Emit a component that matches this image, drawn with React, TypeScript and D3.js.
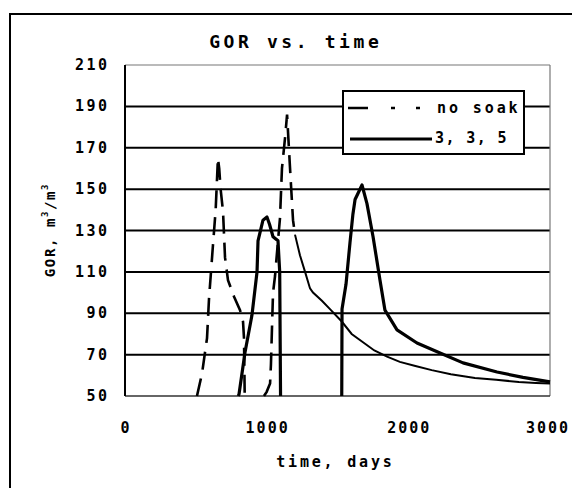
import React from "react";
import * as d3 from "d3";

// ---- data ----
const noSoakDays = [508, 544, 579, 593, 621, 640, 656, 665, 675, 692, 706, 727, 770, 812, 833, 840, 845, null,
  981, 1000, 1024, 1030, 1038, 1045, 1059, 1080, 1094, 1108, 1130, 1144, 1165, 1186, 1200, 1235, 1271, 1306, 1327,
  1390, 1447, 1530, 1600, 1680, 1760, 1850, 1940, 2050, 2165, 2300, 2470, 2620, 2780, 2900, 3000];
const noSoakGor = [50, 61, 78, 97, 123, 140, 165, 160, 150, 139, 117, 106, 98, 91.5, 86, 78, 50, null,
  50, 52, 56, 65, 84, 100, 108, 125, 136, 160, 175, 186, 160, 135, 128, 118, 110, 102, 100,
  96, 92, 86, 80, 76, 72, 69, 66.5, 64.5, 62.5, 60.5, 58.7, 57.8, 56.8, 56.3, 56];

const soakDays = [800, 805, 847, 896, 932, 939, 974, 1002, 1020, 1045, 1080, 1092, 1098, null,
  1530, 1532, 1560, 1588, 1609, 1624, 1673, 1708, 1751, 1800, 1835, 1920, 2061, 2224, 2386, 2626, 2809, 3000];
const soakGor = [50, 51, 71, 89, 110, 125, 135, 136.5, 133, 127, 125, 110, 50, null,
  50, 92, 104, 124, 138, 145, 152, 143, 127, 106, 91.5, 82, 75.6, 70.8, 66, 61.6, 59, 56.8];

const yTicks = [50, 70, 90, 110, 130, 150, 170, 190, 210];
const xTicks = [0, 1000, 2000, 3000];
const seriesNames = ["no soak", "3, 3, 5"];

const FONT = "'DejaVu Sans Mono', 'Liberation Mono', monospace";

export default function App() {
  const W = 572, H = 488;
  const x = d3.scaleLinear().domain([0, 3000]).range([125, 550]);
  const y = d3.scaleLinear().domain([50, 210]).range([396, 65]);

  type P = { t: number | null; g: number | null };
  const noSoak: P[] = noSoakDays.map((t, i) => ({ t, g: noSoakGor[i] }));
  const soak: P[] = soakDays.map((t, i) => ({ t, g: soakGor[i] }));

  const line = d3.line<P>()
    .defined(d => d.t != null && d.g != null)
    .x(d => x(d.t as number))
    .y(d => y(d.g as number));

  const noSoakHead = noSoak.filter(d => d.t == null || (d.t as number) <= 1200);
  const noSoakTail = noSoak.filter(d => d.t != null && (d.t as number) >= 1200);

  const ls = 2.4;
  const xls = 2.0;
  return (
    <svg width={W} height={H} style={{ position: "absolute", left: 0, top: 0, background: "#fff" }}>
      <rect x={0} y={0} width={W} height={H} fill="#fff" />
      <rect x={10} y={14} width={620} height={520} fill="none" stroke="#000" strokeWidth={2} />

      {/* grid lines */}
      {yTicks.filter(v => v > 50 && v < 210).map(v => (
        <line key={v} x1={x(0)} x2={x(3000)} y1={y(v)} y2={y(v)} stroke="#000" strokeWidth={2} />
      ))}
      {/* plot frame */}
      <line x1={x(0)} x2={x(3000)} y1={y(210)} y2={y(210)} stroke="#777" strokeWidth={1.2} />
      <line x1={x(3000)} x2={x(3000)} y1={y(210)} y2={y(50)} stroke="#777" strokeWidth={1.2} />
      <line x1={x(0)} x2={x(3000)} y1={y(50)} y2={y(50)} stroke="#333" strokeWidth={1.6} />
      <line x1={x(0)} x2={x(0)} y1={y(210)} y2={y(50)} stroke="#000" strokeWidth={2} />

      {/* series */}
      <path d={line(soak) || ""} fill="none" stroke="#000" strokeWidth={3.2} strokeLinejoin="round" />
      <path d={line(noSoakHead) || ""} fill="none" stroke="#000" strokeWidth={2.6} strokeDasharray="18,9" />
      <path d={line(noSoakTail) || ""} fill="none" stroke="#000" strokeWidth={2} />

      {/* title */}
      <text x={294 + 1.8} y={41} textAnchor="middle" dominantBaseline="central" fontFamily={FONT}
        fontWeight="bold" fontSize={18} letterSpacing={3.6}>GOR vs. time</text>

      {/* y tick labels */}
      {yTicks.map(v => (
        <text key={v} x={107 + ls} y={y(v)} textAnchor="end" dominantBaseline="central" fontFamily={FONT}
          fontWeight="bold" fontSize={15} letterSpacing={ls}>{v}</text>
      ))}
      {/* x tick labels */}
      {xTicks.map(v => (
        <text key={v} x={x(v) + xls / 2 - (v === 3000 ? 3 : 0)} y={428} textAnchor="middle" dominantBaseline="central" fontFamily={FONT}
          fontWeight="bold" fontSize={15} letterSpacing={xls}>{v}</text>
      ))}

      {/* axis titles */}
      <text x={334 + 1.4} y={462} textAnchor="middle" dominantBaseline="central" fontFamily={FONT}
        fontWeight="bold" fontSize={15} letterSpacing={2.8}>time, days</text>
      <text transform="translate(50,230) rotate(-90)" textAnchor="middle" dominantBaseline="central"
        fontFamily={FONT} fontWeight="bold" fontSize={14} letterSpacing={1.6}>
        GOR, m<tspan fontSize={9} dy={-5}>3</tspan><tspan dy={5}>/m</tspan><tspan fontSize={9} dy={-5}>3</tspan>
      </text>

      {/* legend */}
      <rect x={343} y={91} width={181} height={63} fill="#fff" stroke="#000" strokeWidth={2} />
      <line x1={348} x2={428} y1={108} y2={108} stroke="#000" strokeWidth={2.5} strokeDasharray="20,23,4,21,4,20" />
      <line x1={350} x2={432} y1={139} y2={139} stroke="#000" strokeWidth={3.2} />
      <text x={437} y={108} dominantBaseline="central" fontFamily={FONT} fontWeight="bold" fontSize={15}
        letterSpacing={2.9}>{seriesNames[0]}</text>
      <text x={435} y={138} dominantBaseline="central" fontFamily={FONT} fontWeight="bold" fontSize={15}
        letterSpacing={1.4}>{seriesNames[1]}</text>
    </svg>
  );
}
